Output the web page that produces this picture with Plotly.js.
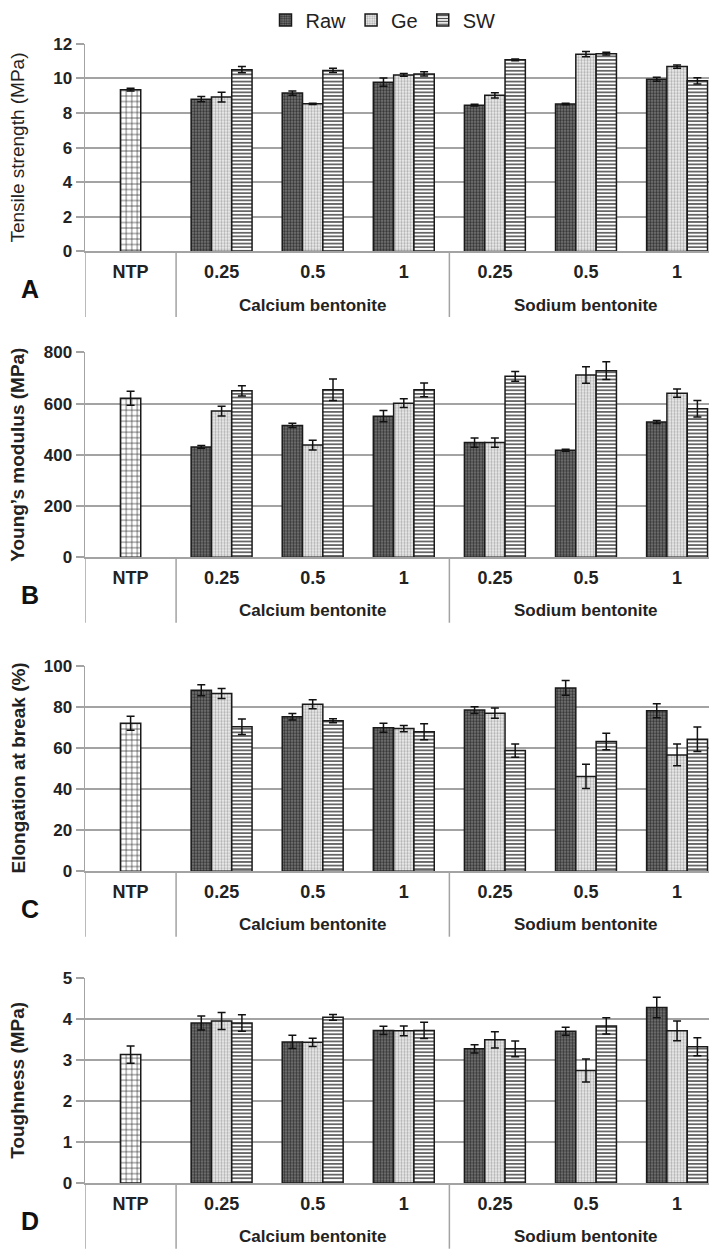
<!DOCTYPE html>
<html>
<head>
<meta charset="utf-8">
<script src="https://cdn.plot.ly/plotly-3.0.1.min.js"></script>
<style>html,body{margin:0;padding:0;background:#fff;}#chart{width:709px;height:1249px;}</style>
</head>
<body>
<div id="chart"></div>
<script>
// ---- categories / labels ----
const categories = ["NTP","Ca-0.25","Ca-0.5","Ca-1","Na-0.25","Na-0.5","Na-1"];
const tickLabels = ["NTP","0.25","0.5","1","0.25","0.5","1"];
const treatedCats = categories.slice(1);
const groupLabels = ["Calcium bentonite","Sodium bentonite"];
const groupCenters = ["Ca-0.5","Na-0.5"];
const seriesNames = ["Raw","Ge","SW"];
const panelLetters = ["A","B","C","D"];
const yTitles = ["Tensile strength (MPa)","Young\u2019s modulus (MPa)","Elongation at break (%)","Toughness (MPa)"];

// ---- A: tensile strength ----
const tsNTP = [9.35], tsNTPErr = [0.08];
const tsRaw = [8.80, 9.15, 9.78, 8.45, 8.52, 9.95];
const tsRawErr = [0.15, 0.12, 0.24, 0.05, 0.05, 0.12];
const tsGe = [8.92, 8.53, 10.20, 9.02, 11.40, 10.68];
const tsGeErr = [0.28, 0.04, 0.08, 0.15, 0.15, 0.10];
const tsSW = [10.50, 10.46, 10.26, 11.07, 11.43, 9.86];
const tsSWErr = [0.18, 0.12, 0.12, 0.05, 0.08, 0.18];

// ---- B: Young's modulus ----
const ymNTP = [621], ymNTPErr = [27];
const ymRaw = [431, 515, 551, 448, 418, 528];
const ymRawErr = [5, 8, 22, 18, 4, 6];
const ymGe = [571, 438, 602, 448, 712, 641];
const ymGeErr = [19, 19, 17, 18, 32, 16];
const ymSW = [650, 654, 654, 707, 729, 580];
const ymSWErr = [20, 42, 27, 19, 35, 32];

// ---- C: elongation at break ----
const ebNTP = [72.0], ebNTPErr = [3.4];
const ebRaw = [88.1, 75.2, 69.8, 78.4, 89.2, 78.1];
const ebRawErr = [2.7, 1.6, 2.2, 1.6, 3.6, 3.4];
const ebGe = [86.5, 81.3, 69.4, 76.9, 46.1, 56.6];
const ebGeErr = [2.4, 2.2, 1.5, 2.5, 5.9, 5.3];
const ebSW = [70.3, 73.2, 67.9, 58.7, 63.1, 64.2];
const ebSWErr = [3.8, 1.0, 3.9, 3.2, 4.0, 6.0];

// ---- D: toughness ----
const tgNTP = [3.14], tgNTPErr = [0.21];
const tgRaw = [3.91, 3.45, 3.73, 3.28, 3.71, 4.29];
const tgRawErr = [0.17, 0.16, 0.10, 0.10, 0.10, 0.25];
const tgGe = [3.96, 3.44, 3.72, 3.50, 2.75, 3.72];
const tgGeErr = [0.21, 0.10, 0.12, 0.20, 0.28, 0.24];
const tgSW = [3.91, 4.05, 3.73, 3.28, 3.84, 3.33];
const tgSWErr = [0.20, 0.07, 0.20, 0.19, 0.20, 0.22];

const yRanges = [[0,12],[0,800],[0,100],[0,5]];
const yDticks = [2,200,20,1];

const panels = [
  {ntp:[tsNTP,tsNTPErr], s:[[tsRaw,tsRawErr],[tsGe,tsGeErr],[tsSW,tsSWErr]]},
  {ntp:[ymNTP,ymNTPErr], s:[[ymRaw,ymRawErr],[ymGe,ymGeErr],[ymSW,ymSWErr]]},
  {ntp:[ebNTP,ebNTPErr], s:[[ebRaw,ebRawErr],[ebGe,ebGeErr],[ebSW,ebSWErr]]},
  {ntp:[tgNTP,tgNTPErr], s:[[tgRaw,tgRawErr],[tgGe,tgGeErr],[tgSW,tgSWErr]]}
];

// ---- styling ----
const H = 1249, W = 709;
const panelPx = [[36,245],[346.7,552.7],[662,868.7],[976.7,1182.7]]; // top, zero (px)
const xStart = 85/W;
const barW = 0.223;
const offsets = [-0.335, -0.112, 0.111];
const patterns = [
  {shape:".", bgcolor:"#7c7c7c", fgcolor:"#333333", size:3, solidity:0.5, fillmode:"replace"},
  {shape:".", bgcolor:"#efefef", fgcolor:"#b0b0b0", size:3, solidity:0.45, fillmode:"replace"},
  {shape:"-", bgcolor:"#ffffff", fgcolor:"#4a4a4a", size:3.6, solidity:0.42, fillmode:"replace"}
];
const ntpPattern = {shape:"+", bgcolor:"#ffffff", fgcolor:"#2a2a2a", size:5.5, solidity:0.22, fillmode:"replace"};
const gridCol = "#a3a3a3";
const FONT = "Liberation Sans, Arial, sans-serif";

const traces = [];
const layout = {
  width: W, height: H,
  margin: {l:0, r:0, t:0, b:0},
  paper_bgcolor: "#fff", plot_bgcolor: "#fff",
  barmode: "overlay",
  showlegend: true,
  legend: {orientation:"h", x:383/W, xanchor:"center", y:1-12/H, yanchor:"middle",
           font:{family:FONT, size:20, color:"#222"}, itemwidth:30, tracegroupgap:0,
           bgcolor:"rgba(0,0,0,0)"},
  font: {family:FONT, color:"#222"},
  annotations: [], shapes: []
};

panels.forEach((p, i) => {
  const n = i === 0 ? "" : String(i+1);
  const xa = "x"+n, ya = "y"+n;
  const [topPx, zeroPx] = panelPx[i];
  const hPx = zeroPx - topPx;
  traces.push({
    type:"bar", x:[categories[0]], y:p.ntp[0], xaxis:xa, yaxis:ya,
    width:barW, offset:-0.111, showlegend:false, name:"NTP",
    marker:{pattern:ntpPattern, color:"#fff", line:{color:"#1a1a1a", width:1.5}},
    error_y:{type:"data", array:p.ntp[1], visible:true, color:"#111", thickness:1.5, width:4}
  });
  p.s.forEach((s, k) => {
    traces.push({
      type:"bar", x:treatedCats, y:s[0], xaxis:xa, yaxis:ya,
      width:barW, offset:offsets[k], name:seriesNames[k], legendgroup:seriesNames[k],
      showlegend: i === 0,
      marker:{pattern:patterns[k], color:patterns[k].bgcolor, line:{color:"#1a1a1a", width:1.5}},
      error_y:{type:"data", array:s[1], visible:true, color:"#111", thickness:1.5, width:4}
    });
  });
  layout["xaxis"+n] = {
    domain:[xStart, 1], anchor:ya, type:"category",
    categoryorder:"array", categoryarray:categories,
    range:[-0.5, 6.35], tickmode:"array", tickvals:categories, ticktext:tickLabels,
    ticks:"", ticklabelstandoff:3,
    tickfont:{family:FONT, size:18, color:"#222", weight:"bold"},
    showline:true, linecolor:gridCol, linewidth:2, showgrid:false, zeroline:false, fixedrange:true
  };
  layout["yaxis"+n] = {
    domain:[1-zeroPx/H, 1-topPx/H], anchor:xa, range:yRanges[i], dtick:yDticks[i],
    tickmode:"linear", tick0:0,
    showgrid:true, gridcolor:gridCol, gridwidth:2,
    showline:true, linecolor:gridCol, linewidth:1.5,
    ticks:"outside", ticklen:8, tickcolor:gridCol, tickwidth:2,
    tickfont:{family:FONT, size:17, color:"#222", weight:"bold"},
    zeroline:false, fixedrange:true
  };
  const yd = ya + " domain";
  layout.annotations.push({
    xref:"paper", yref:yd, x:18/W, y:0.5, xanchor:"center", yanchor:"middle",
    textangle:-90, showarrow:false, text:yTitles[i],
    font:{family:FONT, size:19, color:"#222", weight: i === 0 ? "normal" : "bold"}
  });
  layout.annotations.push({
    xref:"paper", yref:yd, x:30/W, y:-38/hPx, xanchor:"center", yanchor:"middle",
    showarrow:false, text:panelLetters[i],
    font:{family:FONT, size:25, color:"#111", weight:"bold"}
  });
  groupLabels.forEach((g, j) => {
    layout.annotations.push({
      xref:xa, yref:yd, x:groupCenters[j], y:-54/hPx, xanchor:"center", yanchor:"middle",
      showarrow:false, text:g, font:{family:FONT, size:17, color:"#222", weight:"bold"}
    });
  });
  [-0.5, 0.5, 3.5].forEach(xv => {
    layout.shapes.push({type:"line", xref:xa, yref:yd, x0:xv, x1:xv, y0:0, y1:-66/hPx,
      line:{color:gridCol, width:1.5}});
  });
});

Plotly.newPlot("chart", traces, layout, {staticPlot:true, displayModeBar:false});
</script>
</body>
</html>
